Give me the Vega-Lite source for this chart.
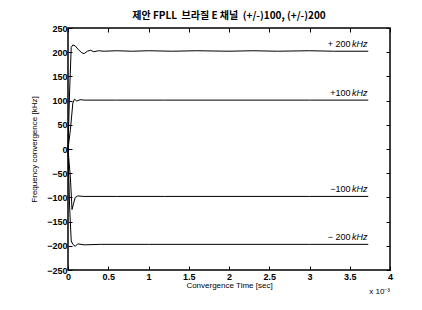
{
  "$schema": "https://vega.github.io/schema/vega-lite/v6.json",
  "width": 322,
  "height": 242,
  "autosize": "none",
  "padding": {"left": 68, "top": 28, "right": 32, "bottom": 40},
  "background": "white",
  "config": {
    "view": {"stroke": "black", "strokeWidth": 1.5},
    "font": "Liberation Sans",
    "axis": {"grid": false, "domain": false, "tickColor": "black", "tickSize": -4, "labelColor": "black", "titleColor": "black", "labelFont": "Liberation Sans", "titleFont": "Liberation Sans", "labelFontSize": 9, "titleFontSize": 8, "labelFontWeight": "bold", "titleFontWeight": "normal"}
  },
  "title": {"text": "제안 FPLL\u00a0\u00a0브라질 E 채널\u00a0\u00a0(+/-)100, (+/-)200", "fontSize": 10, "fontWeight": "bold", "font": "Noto Sans CJK KR", "offset": 3, "color": "black"},
  "datasets": {
    "lines": [
      {"t": 0, "f": 0, "s": "p200"}, {"t": 0.02, "f": 120, "s": "p200"}, {"t": 0.04, "f": 210, "s": "p200"}, {"t": 0.06, "f": 215, "s": "p200"}, {"t": 0.09, "f": 213, "s": "p200"}, {"t": 0.13, "f": 205, "s": "p200"}, {"t": 0.17, "f": 199, "s": "p200"}, {"t": 0.2, "f": 197, "s": "p200"}, {"t": 0.24, "f": 202, "s": "p200"}, {"t": 0.28, "f": 204, "s": "p200"}, {"t": 0.32, "f": 201, "s": "p200"}, {"t": 0.38, "f": 203, "s": "p200"}, {"t": 0.45, "f": 202, "s": "p200"}, {"t": 0.6, "f": 203, "s": "p200"}, {"t": 0.8, "f": 202, "s": "p200"}, {"t": 1.0, "f": 203, "s": "p200"}, {"t": 1.3, "f": 202, "s": "p200"}, {"t": 1.6, "f": 203, "s": "p200"}, {"t": 2.0, "f": 202, "s": "p200"}, {"t": 2.3, "f": 203, "s": "p200"}, {"t": 2.6, "f": 202, "s": "p200"}, {"t": 3.0, "f": 203, "s": "p200"}, {"t": 3.3, "f": 202, "s": "p200"}, {"t": 3.73, "f": 202, "s": "p200"},
      {"t": 0, "f": 0, "s": "p100"}, {"t": 0.03, "f": 40, "s": "p100"}, {"t": 0.06, "f": 95, "s": "p100"}, {"t": 0.08, "f": 103, "s": "p100"}, {"t": 0.11, "f": 99, "s": "p100"}, {"t": 0.15, "f": 102, "s": "p100"}, {"t": 0.2, "f": 101, "s": "p100"}, {"t": 0.6, "f": 101, "s": "p100"}, {"t": 1.2, "f": 101, "s": "p100"}, {"t": 2.0, "f": 101, "s": "p100"}, {"t": 3.0, "f": 101, "s": "p100"}, {"t": 3.73, "f": 101, "s": "p100"},
      {"t": 0, "f": 0, "s": "m100"}, {"t": 0.03, "f": -60, "s": "m100"}, {"t": 0.05, "f": -125, "s": "m100"}, {"t": 0.07, "f": -112, "s": "m100"}, {"t": 0.09, "f": -100, "s": "m100"}, {"t": 0.12, "f": -97, "s": "m100"}, {"t": 0.2, "f": -98, "s": "m100"}, {"t": 0.6, "f": -98, "s": "m100"}, {"t": 1.2, "f": -98, "s": "m100"}, {"t": 2.0, "f": -98, "s": "m100"}, {"t": 3.0, "f": -98, "s": "m100"}, {"t": 3.73, "f": -98, "s": "m100"},
      {"t": 0, "f": 0, "s": "m200"}, {"t": 0.02, "f": -120, "s": "m200"}, {"t": 0.04, "f": -190, "s": "m200"}, {"t": 0.06, "f": -197, "s": "m200"}, {"t": 0.09, "f": -201, "s": "m200"}, {"t": 0.12, "f": -196, "s": "m200"}, {"t": 0.2, "f": -198, "s": "m200"}, {"t": 0.4, "f": -197, "s": "m200"}, {"t": 1.0, "f": -197, "s": "m200"}, {"t": 2.0, "f": -197, "s": "m200"}, {"t": 3.0, "f": -197, "s": "m200"}, {"t": 3.73, "f": -197, "s": "m200"}
    ],
    "labels": [
      {"t": 3.72, "f": 202, "num": "+ 200"},
      {"t": 3.72, "f": 101, "num": "+100"},
      {"t": 3.72, "f": -98, "num": "−100"},
      {"t": 3.72, "f": -197, "num": "− 200"}
    ]
  },
  "layer": [
    {
      "data": {"name": "lines"},
      "mark": {"type": "line", "color": "black", "strokeWidth": 1},
      "encoding": {
        "x": {"field": "t", "type": "quantitative", "scale": {"domain": [0, 4], "nice": false}, "axis": {"values": [0, 0.5, 1, 1.5, 2, 2.5, 3, 3.5, 4], "labelExpr": "datum.value == 0 ? '0' : format(datum.value, '.2~f')", "title": "Convergence Time [sec]", "titlePadding": 0, "labelPadding": 6, "labelFlush": false}},
        "y": {"field": "f", "type": "quantitative", "scale": {"domain": [-250, 250], "nice": false}, "axis": {"values": [-250, -200, -150, -100, -50, 0, 50, 100, 150, 200, 250], "title": "Frequency convergence [kHz]", "titlePadding": 8, "labelPadding": 5}},
        "detail": {"field": "s"}
      }
    },
    {
      "data": {"name": "labels"},
      "mark": {"type": "text", "align": "right", "baseline": "bottom", "dy": -2, "dx": -17, "fontSize": 9, "font": "Liberation Sans", "color": "black"},
      "encoding": {
        "x": {"field": "t", "type": "quantitative", "axis": {"orient": "top", "values": [0, 0.5, 1, 1.5, 2, 2.5, 3, 3.5, 4], "labels": false, "title": null}},
        "y": {"field": "f", "type": "quantitative", "axis": {"orient": "right", "values": [-250, -200, -150, -100, -50, 0, 50, 100, 150, 200, 250], "labels": false, "title": null}},
        "text": {"field": "num"}
      }
    },
    {
      "data": {"name": "labels"},
      "mark": {"type": "text", "align": "right", "baseline": "bottom", "dy": -2, "fontSize": 9, "fontStyle": "italic", "font": "Liberation Sans", "color": "black"},
      "encoding": {
        "x": {"field": "t", "type": "quantitative", "axis": null},
        "y": {"field": "f", "type": "quantitative", "axis": null},
        "text": {"value": "kHz"}
      }
    },
    {
      "data": {"values": [{"t": 4.0, "f": -250}]},
      "mark": {"type": "text", "align": "right", "baseline": "middle", "dy": 22, "fontSize": 8, "font": "Liberation Sans", "color": "black"},
      "encoding": {
        "x": {"field": "t", "type": "quantitative", "axis": null},
        "y": {"field": "f", "type": "quantitative", "axis": null},
        "text": {"value": "x 10⁻³"}
      }
    }
  ],
  "resolve": {"axis": {"x": "independent", "y": "independent"}}
}
